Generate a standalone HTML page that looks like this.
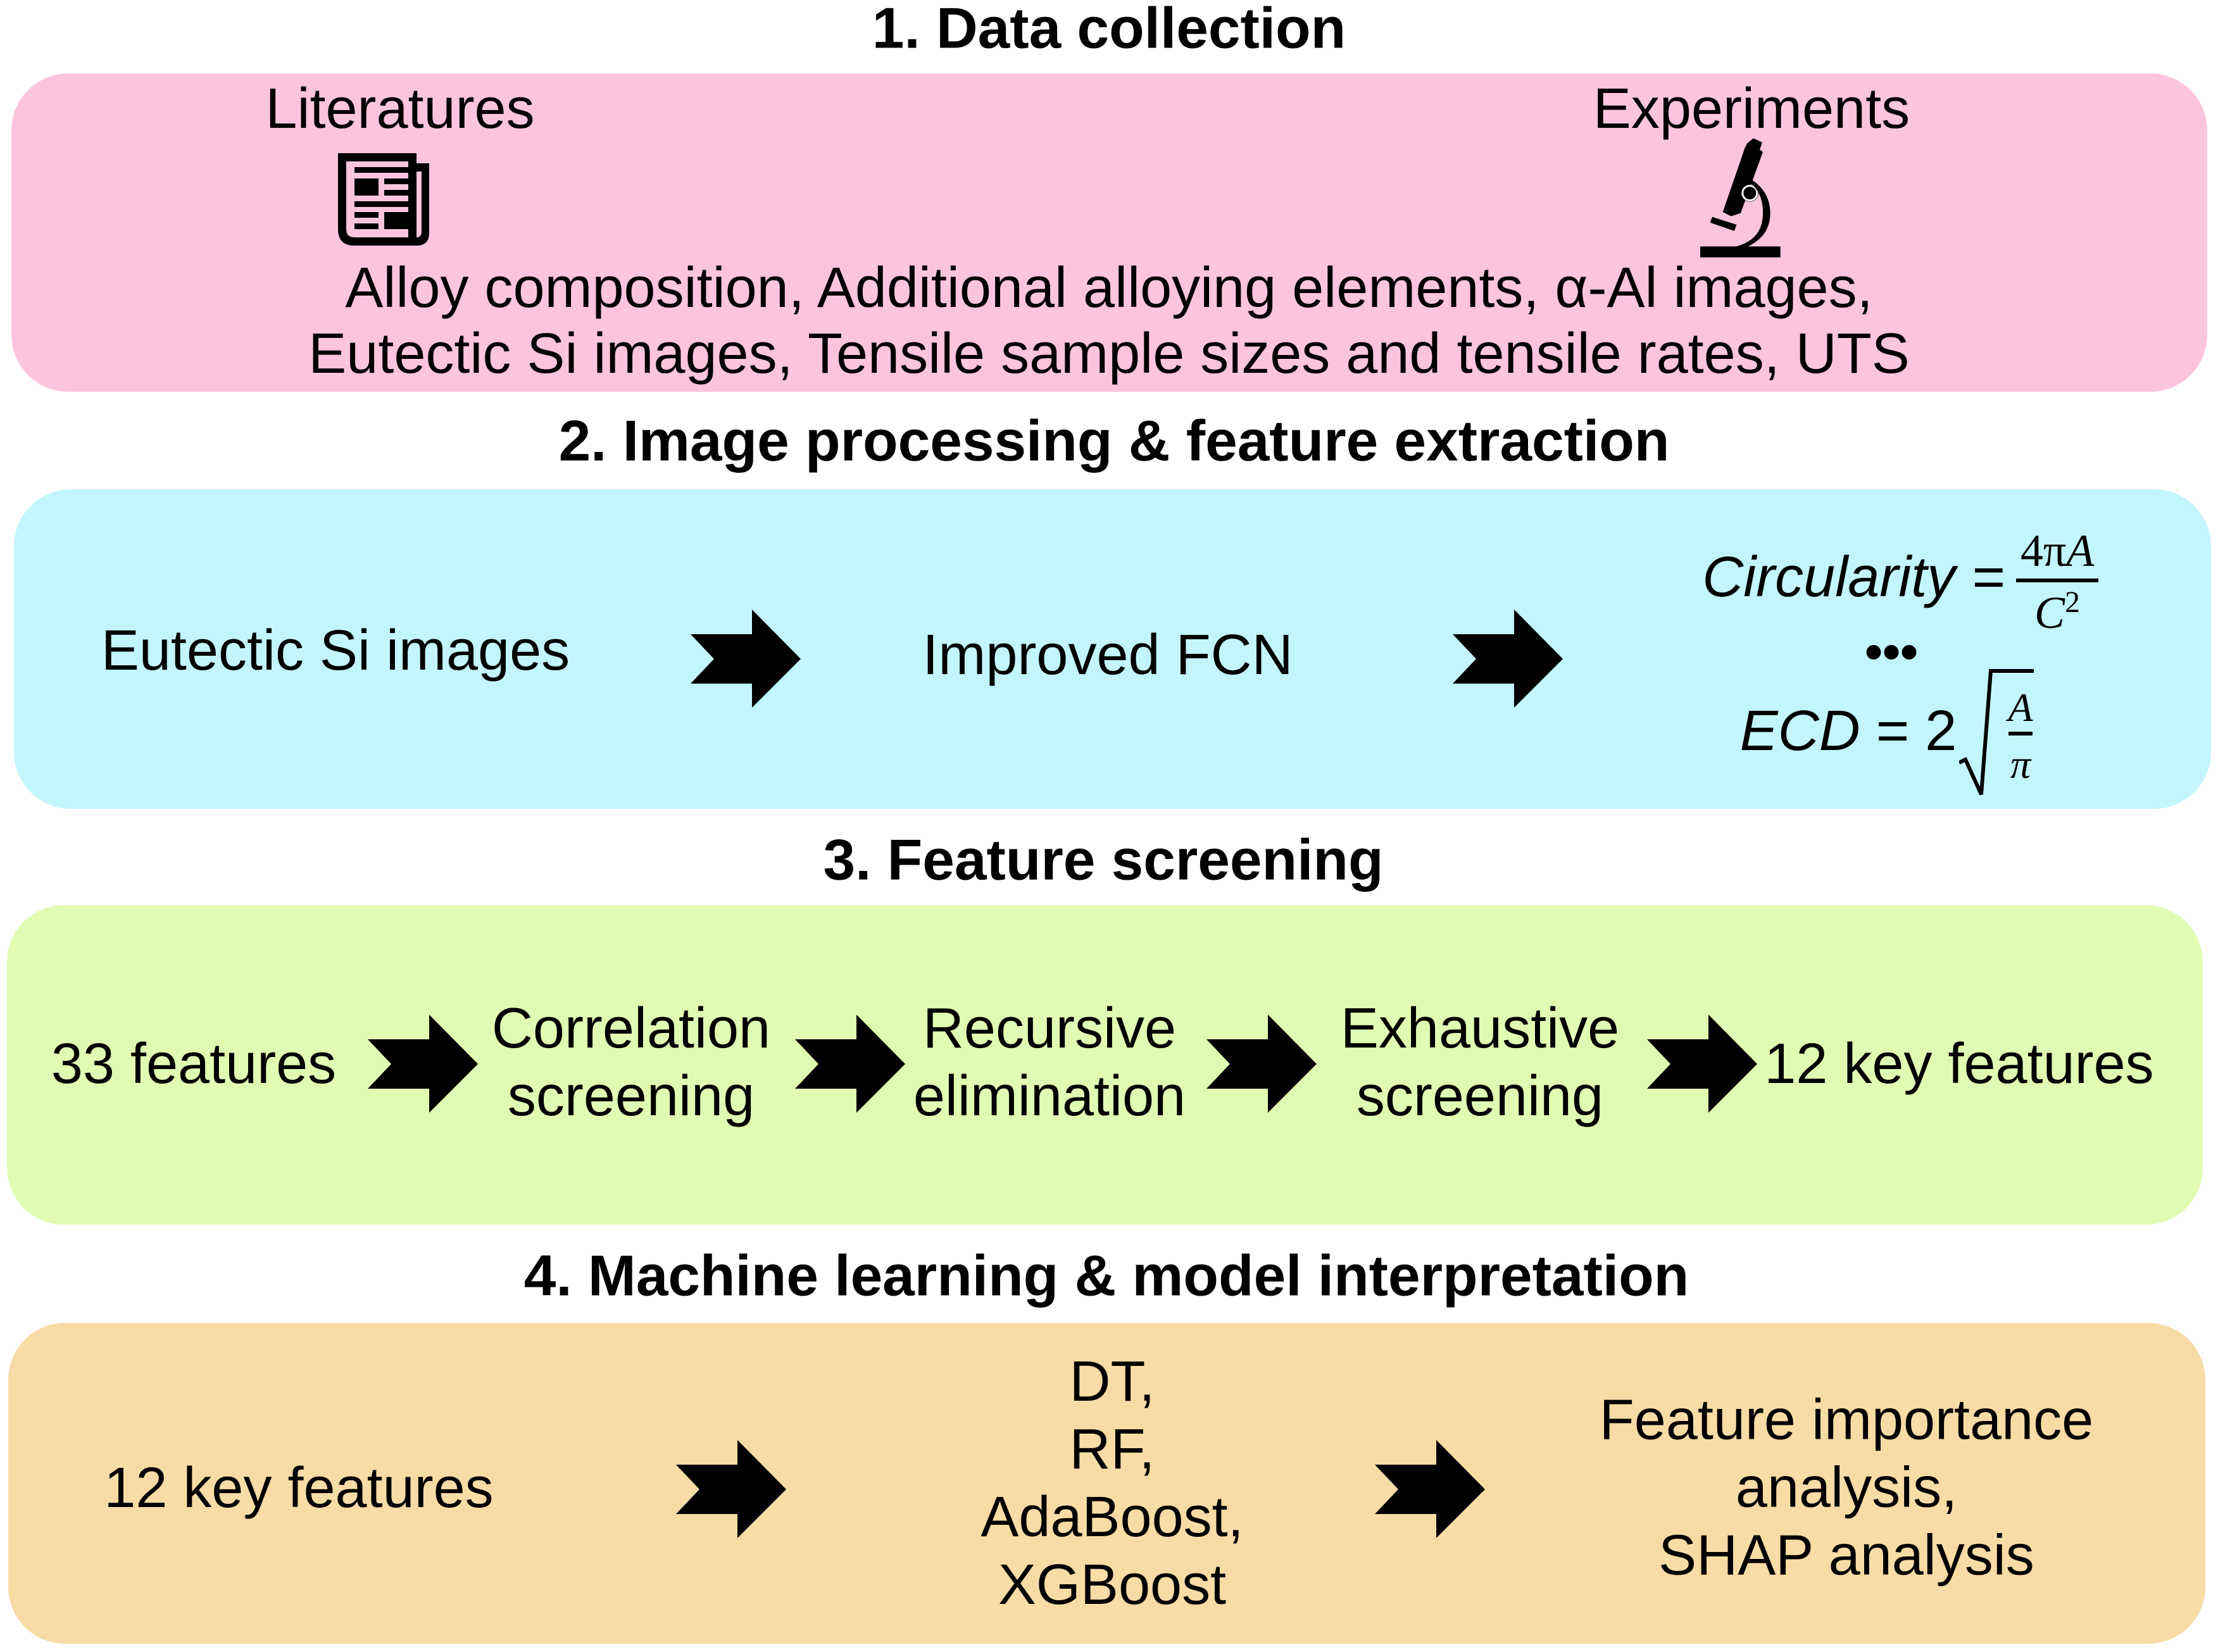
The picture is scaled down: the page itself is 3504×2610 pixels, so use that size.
<!DOCTYPE html>
<html><head><meta charset="utf-8"><style>
html,body{margin:0;padding:0;}
body{width:3504px;height:2610px;position:relative;background:#fff;font-family:"Liberation Sans",Arial,sans-serif;color:#000;overflow:hidden;}
.box{position:absolute;border-radius:90px;}
.t{position:absolute;transform:translate(-50%,-50%);white-space:nowrap;font-size:90px;line-height:1;text-align:center;}
.h{font-weight:bold;font-size:91px;}
.m{line-height:107px;}
svg{position:absolute;}
</style></head><body>
<div class="box" style="left:18px;top:116px;width:3469px;height:503px;background:#fdc5dd"></div>
<div class="box" style="left:22px;top:773px;width:3471px;height:505px;background:#c3f5fc"></div>
<div class="box" style="left:11px;top:1430px;width:3469px;height:505px;background:#e0fcb3"></div>
<div class="box" style="left:13px;top:2090px;width:3471px;height:507px;background:#f9dba6"></div>

<div class="t h" style="left:1752px;top:45px">1. Data collection</div>
<div class="t" style="left:632px;top:172px">Literatures</div>
<div class="t" style="left:2767px;top:172px">Experiments</div>
<svg style="left:530px;top:238px" width="155" height="152" viewBox="0 0 155 152">
<path d="M4 4 H128 V150 H30 Q4 150 4 124 Z M17 17 V124 Q17 137 30 137 H115 V17 Z" fill="#000"/>
<path d="M128 20 H148 V130 Q148 150 128 150 L128 137 Q136 137 136 128 V33 H128 Z" fill="#000"/>
<rect x="30" y="26" width="86" height="9"/><rect x="30" y="44" width="38" height="27"/>
<rect x="77" y="44" width="39" height="9"/><rect x="77" y="62" width="39" height="9"/>
<rect x="30" y="80" width="86" height="9"/><rect x="30" y="97" width="38" height="9"/>
<rect x="77" y="97" width="39" height="27"/><rect x="30" y="115" width="38" height="9"/>
</svg>
<svg style="left:2650px;top:200px" width="220" height="220" viewBox="0 0 660 660">
<polygon points="360,55 402,75 390,110 405,120 300,410 255,425 215,405 320,100 330,80" fill="#000"/>
<circle cx="343" cy="315" r="40" fill="#fff" stroke="#000" stroke-width="2"/>
<circle cx="343" cy="315" r="30" fill="#000"/>
<path d="M350 250 Q440 300 435 420 Q430 540 300 570 L360 570 Q470 520 470 410 Q468 300 370 245 Z" fill="#000" transform="translate(-30,0)"/>
<polygon points="165,428 280,465 270,495 155,455" fill="#000"/>
<rect x="108" y="568" width="380" height="52" fill="#000"/>
</svg>
<div class="t" style="left:1752px;top:455px">Alloy composition, Additional alloying elements, α-Al images,</div>
<div class="t" style="left:1752px;top:559px">Eutectic Si images, Tensile sample sizes and tensile rates, UTS</div>

<div class="t h" style="left:1760px;top:697px">2. Image processing &amp; feature extraction</div>
<div class="t" style="left:530px;top:1028px">Eutectic Si images</div>
<div class="t" style="left:1750px;top:1035px">Improved FCN</div>
<div class="t" style="left:2928px;top:912px;font-style:italic">Circularity =</div>
<div class="t" style="left:3250px;top:870px;font-family:'Liberation Serif',serif;font-size:72px">4π<i>A</i></div>
<div style="position:absolute;left:3185px;top:914px;width:130px;height:6px;background:#000"></div>
<div class="t" style="left:3250px;top:966px;font-family:'Liberation Serif',serif;font-size:72px"><i>C</i><sup style="font-size:48px">2</sup></div>
<div class="t" style="left:2988px;top:1030px;font-weight:bold;font-size:80px">•••</div>
<div class="t" style="left:2920px;top:1155px;"><i>ECD</i> = 2</div>
<svg style="left:3095px;top:1055px" width="120" height="205" viewBox="0 0 120 205">
<polyline points="0,150 10,145 35,200 50,5 118,5" fill="none" stroke="#000" stroke-width="6"/>
<rect x="78" y="101" width="38" height="6"/>
</svg>
<div class="t" style="left:3192px;top:1118px;font-family:'Liberation Serif',serif;font-size:64px;font-style:italic">A</div>
<div class="t" style="left:3192px;top:1208px;font-family:'Liberation Serif',serif;font-size:64px;font-style:italic">π</div>

<div class="t h" style="left:1743px;top:1359px">3. Feature screening</div>
<div class="t" style="left:306px;top:1681px">33 features</div>
<div class="t m" style="left:997px;top:1679px">Correlation<br>screening</div>
<div class="t m" style="left:1658px;top:1679px">Recursive<br>elimination</div>
<div class="t m" style="left:2338px;top:1679px">Exhaustive<br>screening</div>
<div class="t" style="left:3095px;top:1681px">12 key features</div>

<div class="t h" style="left:1748px;top:2016px">4. Machine learning &amp; model interpretation</div>
<div class="t" style="left:472px;top:2351px">12 key features</div>
<div class="t m" style="left:1757px;top:2344px">DT,<br>RF,<br>AdaBoost,<br>XGBoost</div>
<div class="t m" style="left:2917px;top:2351px">Feature importance<br>analysis,<br>SHAP analysis</div>

<svg style="left:0;top:0" width="3504" height="2610" viewBox="0 0 3504 2610">
<defs><polygon id="a" points="0,39 97,39 97,0 174,78 97,155 97,117 0,117 37,78"/></defs>
<use href="#a" x="1091" y="963"/>
<use href="#a" x="2295" y="963"/>
<use href="#a" x="581" y="1603"/>
<use href="#a" x="1256" y="1603"/>
<use href="#a" x="1906" y="1603"/>
<use href="#a" x="2602" y="1603"/>
<use href="#a" x="1068" y="2275"/>
<use href="#a" x="2172" y="2275"/>
</svg>
</body></html>
